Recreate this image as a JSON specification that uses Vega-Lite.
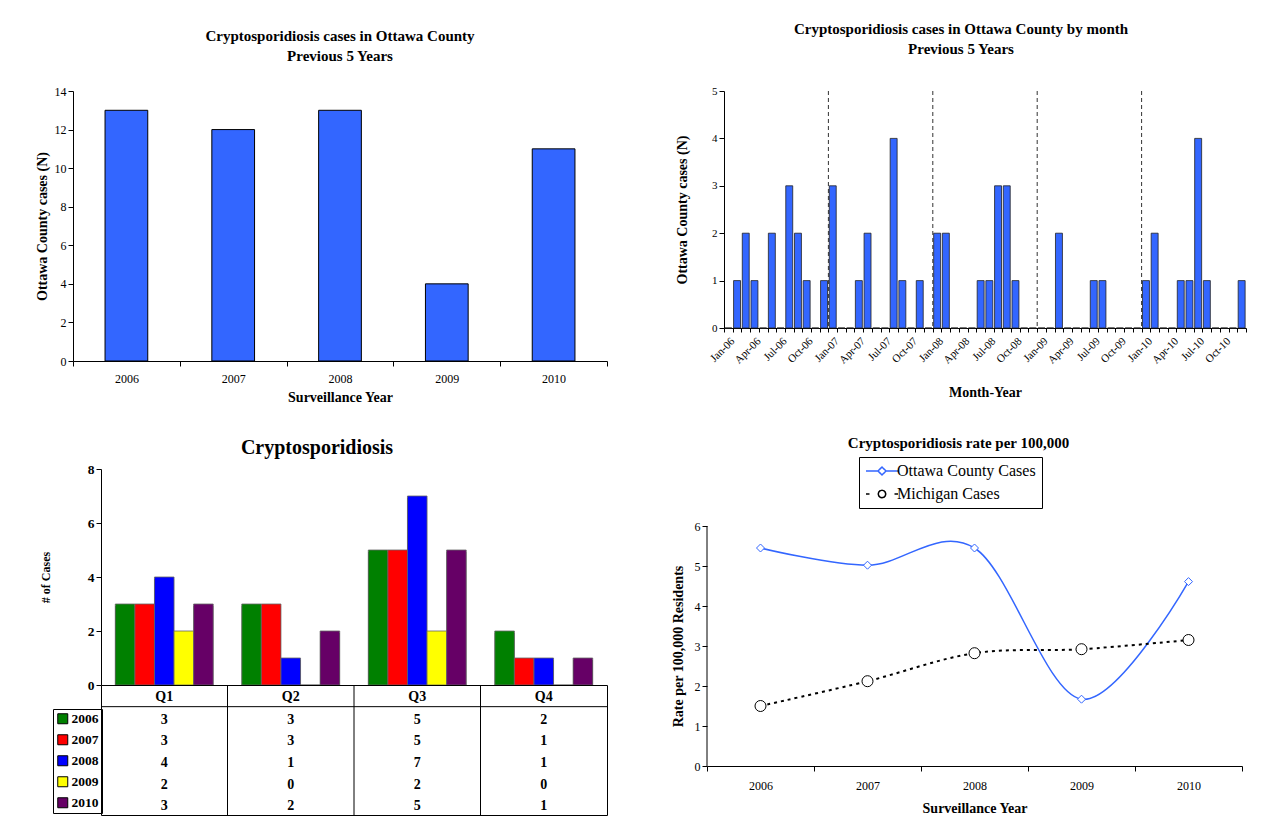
{
  "$schema": "https://vega.github.io/schema/vega-lite/v6.json",
  "background": "white",
  "padding": {"left": 35, "top": 22, "right": 10, "bottom": 6},
  "datasets": {
    "yearly": [
      {"year": "2006", "cases": 13}, {"year": "2007", "cases": 12}, {"year": "2008", "cases": 13},
      {"year": "2009", "cases": 4}, {"year": "2010", "cases": 11}
    ],
    "monthly": [
      {"month": "Jan-06", "cases": 0}, {"month": "Feb-06", "cases": 1}, {"month": "Mar-06", "cases": 2}, {"month": "Apr-06", "cases": 1},
      {"month": "May-06", "cases": 0}, {"month": "Jun-06", "cases": 2}, {"month": "Jul-06", "cases": 0}, {"month": "Aug-06", "cases": 3},
      {"month": "Sep-06", "cases": 2}, {"month": "Oct-06", "cases": 1}, {"month": "Nov-06", "cases": 0}, {"month": "Dec-06", "cases": 1},
      {"month": "Jan-07", "cases": 3}, {"month": "Feb-07", "cases": 0}, {"month": "Mar-07", "cases": 0}, {"month": "Apr-07", "cases": 1},
      {"month": "May-07", "cases": 2}, {"month": "Jun-07", "cases": 0}, {"month": "Jul-07", "cases": 0}, {"month": "Aug-07", "cases": 4},
      {"month": "Sep-07", "cases": 1}, {"month": "Oct-07", "cases": 0}, {"month": "Nov-07", "cases": 1}, {"month": "Dec-07", "cases": 0},
      {"month": "Jan-08", "cases": 2}, {"month": "Feb-08", "cases": 2}, {"month": "Mar-08", "cases": 0}, {"month": "Apr-08", "cases": 0},
      {"month": "May-08", "cases": 0}, {"month": "Jun-08", "cases": 1}, {"month": "Jul-08", "cases": 1}, {"month": "Aug-08", "cases": 3},
      {"month": "Sep-08", "cases": 3}, {"month": "Oct-08", "cases": 1}, {"month": "Nov-08", "cases": 0}, {"month": "Dec-08", "cases": 0},
      {"month": "Jan-09", "cases": 0}, {"month": "Feb-09", "cases": 0}, {"month": "Mar-09", "cases": 2}, {"month": "Apr-09", "cases": 0},
      {"month": "May-09", "cases": 0}, {"month": "Jun-09", "cases": 0}, {"month": "Jul-09", "cases": 1}, {"month": "Aug-09", "cases": 1},
      {"month": "Sep-09", "cases": 0}, {"month": "Oct-09", "cases": 0}, {"month": "Nov-09", "cases": 0}, {"month": "Dec-09", "cases": 0},
      {"month": "Jan-10", "cases": 1}, {"month": "Feb-10", "cases": 2}, {"month": "Mar-10", "cases": 0}, {"month": "Apr-10", "cases": 0},
      {"month": "May-10", "cases": 1}, {"month": "Jun-10", "cases": 1}, {"month": "Jul-10", "cases": 4}, {"month": "Aug-10", "cases": 1},
      {"month": "Sep-10", "cases": 0}, {"month": "Oct-10", "cases": 0}, {"month": "Nov-10", "cases": 0}, {"month": "Dec-10", "cases": 1}
    ],
    "quarterly": [
      {"year": "2006", "quarter": "Q1", "cases": 3}, {"year": "2006", "quarter": "Q2", "cases": 3}, {"year": "2006", "quarter": "Q3", "cases": 5}, {"year": "2006", "quarter": "Q4", "cases": 2},
      {"year": "2007", "quarter": "Q1", "cases": 3}, {"year": "2007", "quarter": "Q2", "cases": 3}, {"year": "2007", "quarter": "Q3", "cases": 5}, {"year": "2007", "quarter": "Q4", "cases": 1},
      {"year": "2008", "quarter": "Q1", "cases": 4}, {"year": "2008", "quarter": "Q2", "cases": 1}, {"year": "2008", "quarter": "Q3", "cases": 7}, {"year": "2008", "quarter": "Q4", "cases": 1},
      {"year": "2009", "quarter": "Q1", "cases": 2}, {"year": "2009", "quarter": "Q2", "cases": 0}, {"year": "2009", "quarter": "Q3", "cases": 2}, {"year": "2009", "quarter": "Q4", "cases": 0},
      {"year": "2010", "quarter": "Q1", "cases": 3}, {"year": "2010", "quarter": "Q2", "cases": 2}, {"year": "2010", "quarter": "Q3", "cases": 5}, {"year": "2010", "quarter": "Q4", "cases": 1}
    ],
    "rates": [
      {"year": "2006", "series": "Ottawa County Cases", "rate": 5.45},
      {"year": "2007", "series": "Ottawa County Cases", "rate": 5.02},
      {"year": "2008", "series": "Ottawa County Cases", "rate": 5.45},
      {"year": "2009", "series": "Ottawa County Cases", "rate": 1.67},
      {"year": "2010", "series": "Ottawa County Cases", "rate": 4.61},
      {"year": "2006", "series": "Michigan Cases", "rate": 1.50},
      {"year": "2007", "series": "Michigan Cases", "rate": 2.12},
      {"year": "2008", "series": "Michigan Cases", "rate": 2.82},
      {"year": "2009", "series": "Michigan Cases", "rate": 2.92},
      {"year": "2010", "series": "Michigan Cases", "rate": 3.15}
    ]
  },
  "config": {
    "font": "Liberation Serif",
    "view": {"stroke": null},
    "axis": {
      "labelFont": "Liberation Serif", "titleFont": "Liberation Serif",
      "labelColor": "black", "titleColor": "black", "domainColor": "black", "tickColor": "black",
      "labelFontSize": 12, "titleFontSize": 14, "titleFontWeight": "bold", "grid": false,
      "tickSize": 5, "domainWidth": 1, "tickWidth": 1
    },
    "title": {"font": "Liberation Serif", "fontSize": 15, "fontWeight": "bold", "color": "black", "anchor": "middle", "frame": "group"},
    "legend": {"labelFont": "Liberation Serif", "labelColor": "black"}
  },
  "spacing": 31,
  "vconcat": [
    {
      "spacing": 67,
      "hconcat": [
        {
          "width": 534, "height": 270,
          "title": {"text": ["Cryptosporidiosis cases in Ottawa County", "Previous 5 Years"], "lineHeight": 20, "offset": 21},
          "data": {"name": "yearly"},
          "mark": {"type": "bar", "color": "#3366FF", "stroke": "black", "strokeWidth": 1, "width": {"band": 0.4}},
          "encoding": {
            "x": {"field": "year", "type": "ordinal", "scale": {"paddingInner": 0, "paddingOuter": 0},
                  "axis": {"title": "Surveillance Year", "labelAngle": 0, "tickBand": "extent", "labelPadding": 7, "titlePadding": 6}},
            "y": {"field": "cases", "type": "quantitative", "scale": {"domain": [0, 14], "nice": false},
                  "axis": {"title": "Ottawa County cases (N)", "values": [0, 2, 4, 6, 8, 10, 12, 14], "titlePadding": 5}}
          }
        },
        {
          "width": 522, "height": 237,
          "title": {"text": ["Cryptosporidiosis cases in Ottawa County by month", "Previous 5 Years"], "lineHeight": 20, "offset": 28, "dx": -24},
          "data": {"name": "monthly"},
          "layer": [
            {
              "mark": {"type": "bar", "color": "#3366FF", "stroke": "#222222", "strokeWidth": 0.8, "width": {"band": 0.8}},
              "encoding": {
                "x": {"field": "month", "type": "ordinal", "sort": null, "scale": {"paddingInner": 0, "paddingOuter": 0},
                      "axis": {"title": "Month-Year", "labelAngle": -45, "labelFontSize": 11, "tickBand": "extent", "labelOverlap": false,
                               "tickSize": 4, "labelPadding": 3, "titlePadding": 20,
                               "labelExpr": "indexof(['Jan','Apr','Jul','Oct'], slice(datum.label, 0, 3)) >= 0 ? datum.label : ''"}},
                "y": {"field": "cases", "type": "quantitative", "scale": {"domain": [0, 5], "nice": false},
                      "axis": {"title": "Ottawa County cases (N)", "values": [0, 1, 2, 3, 4, 5], "labelFontSize": 11, "titlePadding": 22}}
              }
            },
            {
              "transform": [{"filter": "slice(datum.month, 0, 3) === 'Jan' && datum.month !== 'Jan-06'"}],
              "mark": {"type": "rule", "color": "#333333", "strokeDash": [4, 3], "strokeWidth": 1},
              "encoding": {"x": {"field": "month", "type": "ordinal", "sort": null, "bandPosition": 0}}
            }
          ]
        }
      ]
    },
    {
      "spacing": 63,
      "resolve": {"scale": {"color": "independent", "shape": "independent", "strokeDash": "independent", "size": "independent"}},
      "hconcat": [
        {
          "bounds": "flush",
          "spacing": 0,
          "hconcat": [
            {
              "width": 28, "height": 216,
              "data": {"values": [{}]},
              "mark": {"type": "text", "text": ""}
            },
            {
              "bounds": "flush",
              "spacing": 0,
              "resolve": {"scale": {"color": "independent"}},
              "vconcat": [
                {
                  "width": 506, "height": 216,
                  "title": {"text": "Cryptosporidiosis", "fontSize": 20, "offset": 4, "dx": -37},
                  "data": {"name": "quarterly"},
                  "encoding": {
                    "x": {"field": "quarter", "type": "nominal", "scale": {"paddingInner": 0, "paddingOuter": 0}, "axis": null},
                    "xOffset": {"field": "year", "type": "nominal", "scale": {"paddingInner": 0, "paddingOuter": 0.73}},
                    "y": {"field": "cases", "type": "quantitative", "scale": {"domain": [0, 8], "nice": false},
                          "axis": {"title": "# of Cases", "values": [0, 2, 4, 6, 8], "labelFontWeight": "bold", "labelFontSize": 13.5,
                                   "titleFontSize": 12, "titlePadding": 35}}
                  },
                  "layer": [
                    {"mark": {"type": "bar", "color": "black", "xOffset": 2, "yOffset": 2, "clip": true}},
                    {
                      "mark": {"type": "bar", "stroke": "#666666", "strokeWidth": 0.8},
                      "encoding": {
                        "color": {"field": "year", "type": "nominal",
                                  "scale": {"domain": ["2006", "2007", "2008", "2009", "2010"], "range": ["#008000", "#FF0000", "#0000FF", "#FFFF00", "#660066"]},
                                  "legend": {"orient": "none", "legendX": -48, "legendY": 240, "title": null, "direction": "vertical",
                                             "symbolType": "square", "symbolSize": 100, "symbolStrokeColor": "black", "symbolStrokeWidth": 1,
                                             "labelFontWeight": "bold", "labelFontSize": 13.5, "labelOffset": 2, "rowPadding": 6,
                                             "strokeColor": "black", "padding": 3}}
                      }
                    }
                  ]
                },
                {
                  "width": 506, "height": 130,
                  "view": {"stroke": "black", "strokeWidth": 1},
                  "data": {"name": "quarterly"},
                  "layer": [
                    {
                      "mark": {"type": "text", "fontWeight": "bold", "fontSize": 14, "font": "Liberation Serif", "color": "black", "dy": 2},
                      "encoding": {
                        "x": {"field": "quarter", "type": "nominal", "scale": {"paddingInner": 0, "paddingOuter": 0}, "axis": null},
                        "y": {"field": "year", "type": "nominal", "scale": {"domain": ["H", "2006", "2007", "2008", "2009", "2010"], "paddingInner": 0, "paddingOuter": 0}, "axis": null},
                        "text": {"field": "cases", "type": "quantitative"}
                      }
                    },
                    {
                      "transform": [{"aggregate": [{"op": "count", "as": "n"}], "groupby": ["quarter"]}],
                      "mark": {"type": "text", "fontWeight": "bold", "fontSize": 14, "font": "Liberation Serif", "color": "black", "dy": 1},
                      "encoding": {
                        "x": {"field": "quarter", "type": "nominal"},
                        "y": {"datum": "H", "type": "nominal"},
                        "text": {"field": "quarter", "type": "nominal"}
                      }
                    },
                    {
                      "transform": [{"aggregate": [{"op": "count", "as": "n"}], "groupby": ["quarter"]}, {"filter": "datum.quarter !== 'Q1'"}],
                      "mark": {"type": "rule", "color": "black", "strokeWidth": 1},
                      "encoding": {"x": {"field": "quarter", "type": "nominal", "bandPosition": 0}}
                    },
                    {
                      "transform": [{"filter": "datum.year === '2006' && datum.quarter === 'Q1'"}],
                      "mark": {"type": "rule", "color": "black", "strokeWidth": 1},
                      "encoding": {"y": {"field": "year", "type": "nominal", "bandPosition": 0}}
                    }
                  ]
                }
              ]
            }
          ]
        },
        {
          "width": 535, "height": 297,
          "title": {"text": "Cryptosporidiosis rate per 100,000", "offset": 6, "dx": -16},
          "data": {"name": "rates"},
          "encoding": {
            "x": {"field": "year", "type": "ordinal", "scale": {"paddingInner": 0, "paddingOuter": 0},
                  "axis": {"title": "Surveillance Year", "labelAngle": 0, "tickBand": "extent", "labelPadding": 9, "titlePadding": 10}},
            "y": {"field": "rate", "type": "quantitative", "scale": {"domain": [0, 7.425], "nice": false},
                  "axis": {"title": "Rate per 100,000 Residents", "values": [0, 1, 2, 3, 4, 5, 6], "domain": false, "titlePadding": 9, "titleY": 177}}
          },
          "layer": [
            {
              "transform": [{"filter": "datum.year === '2006' && datum.series === 'Michigan Cases'"}],
              "mark": {"type": "rule", "color": "black", "strokeWidth": 1},
              "encoding": {
                "x": {"field": "year", "type": "ordinal", "bandPosition": 0},
                "y": {"datum": 0, "type": "quantitative"},
                "y2": {"datum": 6}
              }
            },
            {
              "transform": [{"filter": "datum.series === 'Ottawa County Cases'"}],
              "mark": {"type": "line", "interpolate": "cardinal", "tension": 0, "strokeWidth": 1.5},
              "encoding": {
                "color": {"field": "series", "type": "nominal",
                          "scale": {"domain": ["Ottawa County Cases", "Michigan Cases"], "range": ["#3366FF", "black"]},
                          "legend": {"orient": "none", "legendX": 152, "legendY": -12, "title": null, "direction": "vertical",
                                     "labelFontSize": 16, "strokeColor": "black", "padding": 6, "rowPadding": 7,
                                     "symbolSize": 100, "symbolStrokeWidth": 1.5, "symbolOffset": 9, "labelOffset": 7,
                                     "symbolDash": [1, 0],
                                     "encode": {"symbols": {"update": {
                                       "shape": {"signal": "datum.value === 'Ottawa County Cases' ? 'M-3.2,0L-0.8,0M0.8,0L3.2,0M0,-0.8L0.8,0L0,0.8L-0.8,0Z' : 'M-3.2,0L-2.5,0M2.5,0L3.2,0M0.75,0L0.65,0.375L0.375,0.65L0,0.75L-0.375,0.65L-0.65,0.375L-0.75,0L-0.65,-0.375L-0.375,-0.65L0,-0.75L0.375,-0.65L0.65,-0.375Z'"},
                                       "fill": {"value": "white"}
                                     }}}}}
              }
            },
            {
              "transform": [{"filter": "datum.series === 'Michigan Cases'"}],
              "mark": {"type": "line", "interpolate": "cardinal", "tension": 0, "strokeWidth": 2, "strokeDash": [3, 4], "color": "black"}
            },
            {
              "transform": [{"filter": "datum.series === 'Ottawa County Cases'"}],
              "mark": {"type": "point", "shape": "diamond", "size": 64, "filled": false, "fill": "white", "stroke": "#3366FF", "opacity": 1, "strokeWidth": 1}
            },
            {
              "transform": [{"filter": "datum.series === 'Michigan Cases'"}],
              "mark": {"type": "point", "shape": "circle", "size": 121, "filled": false, "fill": "white", "stroke": "black", "opacity": 1, "strokeWidth": 1}
            }
          ]
        }
      ]
    }
  ]
}
